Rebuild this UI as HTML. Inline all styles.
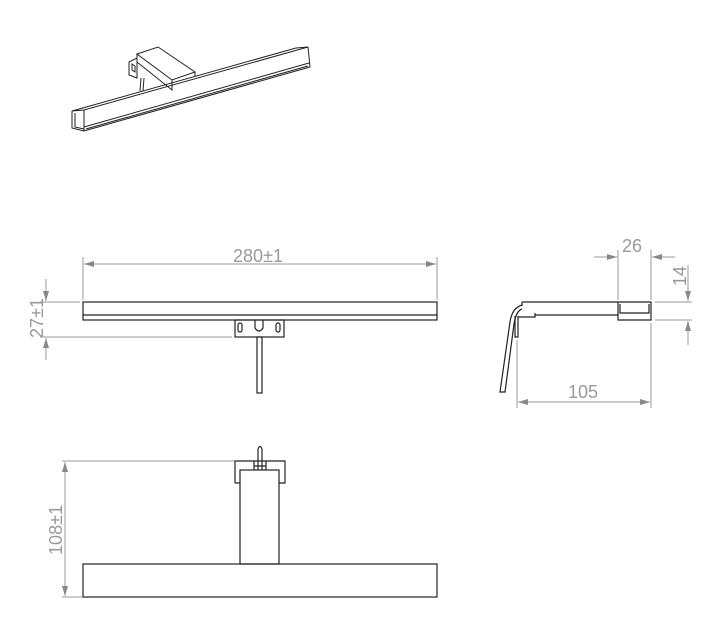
<!DOCTYPE html>
<html><head><style>body{margin:0;background:#fff}svg{display:block}</style></head><body>
<svg width="714" height="642" viewBox="0 0 714 642" xmlns="http://www.w3.org/2000/svg" font-family="Liberation Sans, sans-serif">
<defs><marker id="a" viewBox="0 0 10 6" refX="10" refY="3" markerWidth="10" markerHeight="6" orient="auto-start-reverse" markerUnits="userSpaceOnUse"><path d="M0,0L10,3L0,6z" fill="#888"/></marker></defs>
<!-- iso view -->
<g fill="none" stroke="#222" stroke-width="1">
<path d="M137,54 L158,47 L195,72 L172,80 Z M137,54 L137,62 L172,90 L172,80 M195,72 L195,76"/>
<path d="M129,62 L137,58 L137,78 L129,75 Z M132,64 L135,66 L135,72 L132,70Z"/>
<path d="M141,78 L140,91 M144,78 L143,91"/>
<path d="M72,111 L84,110 L308,47 L296,48 Z M84,110 L84,131 L310,67 L308,47 M72,111 L72,128 L84,131 M84,127 L309,63 M86,129 L308,66"/>
<path d="M75,113 L75,127 L84,129"/>
</g>
<!-- front view -->
<g fill="none" stroke="#222" stroke-width="1.2">
<rect x="83" y="302" width="354" height="18"/><line x1="83" y1="315" x2="437" y2="315"/>
<rect x="235" y="320" width="49" height="17"/>
<rect x="238" y="323" width="4" height="9" rx="2"/><rect x="276" y="323" width="4" height="9" rx="2"/>
<path d="M255,320 L255,328 Q259,334 263,328 L263,320"/>
<rect x="257" y="337" width="5" height="56"/>
</g>
<g stroke="#999" stroke-width="1" fill="none">
<line x1="83" y1="257" x2="83" y2="300"/><line x1="437" y1="257" x2="437" y2="300"/>
<line x1="84" y1="264" x2="436" y2="264" marker-start="url(#a)" marker-end="url(#a)"/>
<line x1="40" y1="302" x2="80" y2="302"/><line x1="40" y1="337" x2="232" y2="337"/>
<line x1="46" y1="279" x2="46" y2="301" marker-end="url(#a)"/><line x1="46" y1="360" x2="46" y2="338" marker-end="url(#a)"/>
</g>
<text x="258" y="262" font-size="18" fill="#999" text-anchor="middle">280±1</text>
<text transform="translate(43,318) rotate(-90)" font-size="18" fill="#999" text-anchor="middle">27±1</text>
<!-- side view -->
<g fill="none" stroke="#222" stroke-width="1.2">
<path d="M522,302 L651,302 L651,320 L618,320 L618,302 M535,315 L618,315 M522,302 L522,306 M535,313 L535,317 L518,317"/>
<path d="M620,304 L620,313 L649,313 L649,304"/>
<path d="M522,305 Q512,308 510,322 L500,392 L505,392 L514,324 Q516,311 522,309"/>
<path d="M515,316 L515,337 L518,337 L518,316"/>
</g>
<g stroke="#999" stroke-width="1" fill="none">
<line x1="618" y1="250" x2="618" y2="300"/><line x1="651" y1="250" x2="651" y2="300"/>
<line x1="594" y1="257" x2="617" y2="257" marker-end="url(#a)"/><line x1="675" y1="257" x2="652" y2="257" marker-end="url(#a)"/>
<line x1="655" y1="302" x2="692" y2="302"/><line x1="655" y1="320" x2="692" y2="320"/>
<line x1="688" y1="265" x2="688" y2="301" marker-end="url(#a)"/><line x1="688" y1="345" x2="688" y2="321" marker-end="url(#a)"/>
<line x1="517" y1="340" x2="517" y2="408"/><line x1="651" y1="323" x2="651" y2="408"/>
<line x1="518" y1="402" x2="650" y2="402" marker-start="url(#a)" marker-end="url(#a)"/>
</g>
<text x="632" y="252" font-size="18" fill="#999" text-anchor="middle">26</text>
<text transform="translate(686,276) rotate(-90)" font-size="18" fill="#999" text-anchor="middle">14</text>
<text x="583" y="398" font-size="18" fill="#999" text-anchor="middle">105</text>
<!-- top view -->
<g fill="none" stroke="#222" stroke-width="1.2">
<rect x="83" y="564" width="354" height="33"/>
<rect x="240" y="470" width="39" height="94"/>
<path d="M235,483 L235,461 L285,461 L285,483 L279,483 M240,483 L235,483"/>
<path d="M258,470 L258,449 Q260,444 262,449 L262,470"/>
<path d="M254,461 L254,470 M266,461 L266,470 M254,466 L266,466"/>
</g>
<g stroke="#999" stroke-width="1" fill="none">
<line x1="62" y1="461" x2="234" y2="461"/><line x1="62" y1="597" x2="82" y2="597"/>
<line x1="65" y1="462" x2="65" y2="596" marker-start="url(#a)" marker-end="url(#a)"/>
</g>
<text transform="translate(62,530) rotate(-90)" font-size="18" fill="#999" text-anchor="middle">108±1</text>
</svg>
</body></html>
